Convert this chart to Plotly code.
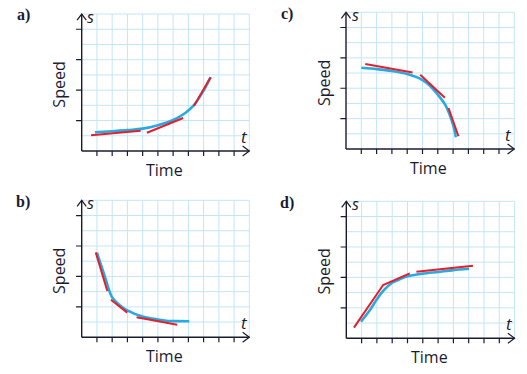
import plotly.graph_objects as go

W, H = 527, 374

# ---------------- data (grid units) ----------------
panel_names = ["a)", "b)", "c)", "d)"]

a_blue_t = [0.87, 2.0, 3.0, 4.0, 5.0, 6.0, 6.8, 7.32, 7.9, 8.46]
a_blue_s = [1.23, 1.30, 1.37, 1.47, 1.70, 2.04, 2.50, 2.96, 3.80, 4.84]
a_red_t = [[0.61, 3.87], [4.28, 6.66], [7.36, 8.46]]
a_red_s = [[1.03, 1.33], [1.20, 2.17], [2.96, 4.84]]

b_blue_t = [1.0, 1.5, 1.97, 2.5, 2.95, 4.04, 5.0, 5.57, 6.2, 7.06]
b_blue_s = [5.56, 4.05, 2.67, 2.10, 1.79, 1.35, 1.17, 1.09, 1.06, 1.05]
b_red_t = [[0.92, 1.68], [1.92, 2.99], [3.60, 6.27]]
b_red_s = [[5.58, 3.04], [2.47, 1.62], [1.31, 0.83]]

c_blue_t = [1.0, 2.0, 3.0, 4.0, 5.0, 5.5, 6.0, 6.5, 7.0, 7.18]
c_blue_s = [5.35, 5.26, 5.13, 4.93, 4.54, 4.15, 3.58, 2.89, 1.58, 0.77]
c_red_t = [[1.26, 4.35], [4.85, 6.46], [6.70, 7.35]]
c_red_s = [[5.59, 5.04], [4.89, 3.38], [2.70, 0.84]]

d_blue_t = [0.96, 1.5, 2.0, 2.41, 3.0, 3.5, 4.0, 5.0, 6.0, 7.0, 8.02]
d_blue_s = [1.09, 1.79, 2.56, 3.11, 3.65, 3.88, 4.08, 4.25, 4.36, 4.48, 4.57]
d_red_t = [[0.50, 2.41, 4.15], [4.58, 8.28]]
d_red_s = [[0.70, 3.50, 4.27], [4.38, 4.77]]

x_ticks = [1, 2, 3, 4, 5, 6, 7, 8, 9, 10]
y_ticks = [2, 4, 6, 8]
x_max, y_max = 11, 9

# -------------- layout geometry (pixel origin & unit size) --------------
geo = {
    "a)": (81.7, 151.0, 15.24, 15.22),
    "b)": (81.7, 337.3, 15.24, 15.22),
    "c)": (346.0, 149.0, 15.30, 15.19),
    "d)": (346.3, 338.3, 15.30, 15.22),
}
data = {
    "a)": (a_blue_t, a_blue_s, a_red_t, a_red_s),
    "b)": (b_blue_t, b_blue_s, b_red_t, b_red_s),
    "c)": (c_blue_t, c_blue_s, c_red_t, c_red_s),
    "d)": (d_blue_t, d_blue_s, d_red_t, d_red_s),
}

XR = (-0.8, 11.6)
YR = (-0.8, 9.6)

GRID = "#c4e5f6"
BLUE = "#27a9e1"
RED = "#e41f2b"
INK = "#1b1b2f"
SANS = "Open Sans, Lato, sans-serif"

fig = go.Figure()
layout = dict(width=W, height=H, margin=dict(l=0, r=0, t=0, b=0),
              paper_bgcolor="white", plot_bgcolor="rgba(0,0,0,0)",
              showlegend=False)
shapes, annotations = [], []

for i, name in enumerate(panel_names):
    ox, oy, ux, uy = geo[name]
    xa = "xaxis" if i == 0 else f"xaxis{i+1}"
    ya = "yaxis" if i == 0 else f"yaxis{i+1}"
    xr = "x" if i == 0 else f"x{i+1}"
    yr = "y" if i == 0 else f"y{i+1}"
    x0p = ox + XR[0] * ux
    x1p = ox + XR[1] * ux
    ybp = oy - YR[0] * uy
    ytp = oy - YR[1] * uy
    layout[xa] = dict(domain=[x0p / W, x1p / W], range=list(XR), visible=False,
                      anchor=yr, fixedrange=True)
    layout[ya] = dict(domain=[1 - ybp / H, 1 - ytp / H], range=list(YR), visible=False,
                      anchor=xr, fixedrange=True)

    def px(u, ox=ox, ux=ux):
        return (ox + u * ux) / W

    def py(v, oy=oy, uy=uy):
        return 1 - (oy - v * uy) / H

    # grid
    for gx in range(1, x_max + 1):
        shapes.append(dict(type="line", xref=xr, yref=yr, x0=gx, x1=gx, y0=0, y1=y_max,
                           line=dict(color=GRID, width=1), layer="below"))
    for gy in range(1, y_max + 1):
        shapes.append(dict(type="line", xref=xr, yref=yr, x0=0, x1=x_max, y0=gy, y1=gy,
                           line=dict(color=GRID, width=1), layer="below"))
    # axes
    shapes.append(dict(type="line", xref=xr, yref=yr, x0=0, x1=x_max, y0=0, y1=0,
                       line=dict(color=INK, width=1.4)))
    shapes.append(dict(type="line", xref=xr, yref=yr, x0=0, x1=0, y0=0, y1=y_max,
                       line=dict(color=INK, width=1.4)))
    # arrow heads
    shapes.append(dict(type="path", xref=xr, yref=yr,
                       path=f"M {x_max-0.44},0.33 L {x_max},0 L {x_max-0.44},-0.33",
                       line=dict(color=INK, width=1.2)))
    shapes.append(dict(type="path", xref=xr, yref=yr,
                       path=f"M -0.3,{y_max-0.4} L 0,{y_max} L 0.3,{y_max-0.4}",
                       line=dict(color=INK, width=1.2)))
    # ticks
    for tx in x_ticks:
        shapes.append(dict(type="line", xref=xr, yref=yr, x0=tx, x1=tx, y0=0, y1=-0.33,
                           line=dict(color=INK, width=1.2)))
    for ty in y_ticks:
        shapes.append(dict(type="line", xref=xr, yref=yr, x0=-0.37, x1=0, y0=ty, y1=ty,
                           line=dict(color=INK, width=1.2)))

    bt, bs, rts, rss = data[name]
    fig.add_trace(go.Scatter(x=bt, y=bs, mode="lines", xaxis=xr, yaxis=yr,
                             line=dict(color=BLUE, width=2.6, shape="spline", smoothing=0.8),
                             hoverinfo="skip"))
    for rt, rs in zip(rts, rss):
        fig.add_trace(go.Scatter(x=rt, y=rs, mode="lines", xaxis=xr, yaxis=yr,
                                 line=dict(color=RED, width=2.0), hoverinfo="skip"))

    # texts (paper coordinates, centred)
    common = dict(xref="paper", yref="paper", showarrow=False,
                  xanchor="center", yanchor="middle")
    annotations.append(dict(common, x=px(5.42), y=py(-1.23), text="Time",
                            font=dict(family=SANS, size=16, color=INK)))
    annotations.append(dict(common, x=px(-1.48), y=py(4.37), text="Speed", textangle=-90,
                            font=dict(family=SANS, size=16, color=INK)))
    annotations.append(dict(common, x=px(-3.85), y=py(8.92), text=f"<b>{name}</b>",
                            font=dict(family="Liberation Serif, serif", size=16, color=INK)))
    annotations.append(dict(common, x=px(0.6), y=py(8.8), text="<i>s</i>",
                            font=dict(family=SANS, size=16, color=INK)))
    annotations.append(dict(common, x=px(10.65), y=py(0.95), text="<i>t</i>",
                            font=dict(family=SANS, size=17, color=INK)))

layout["shapes"] = shapes
layout["annotations"] = annotations
fig.update_layout(**layout)
fig.write_html("out.html", config={"displayModeBar": False, "staticPlot": True},
               post_script="document.body.style.margin='0';document.body.style.overflow='hidden';")
